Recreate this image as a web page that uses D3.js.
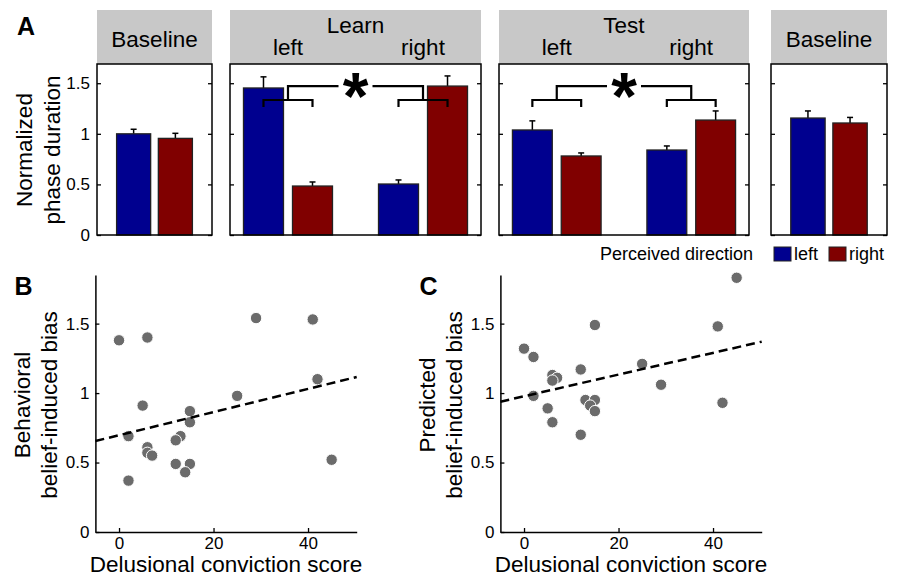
<!DOCTYPE html>
<html>
<head>
<meta charset="utf-8">
<script src="https://cdn.jsdelivr.net/npm/d3@7"></script>
<style>
    body { margin: 0; background: #fff; }
    svg { display: block; font-family: "Liberation Sans", Arial, sans-serif; }
</style>
</head>
<body>
<div id="chart"></div>
<script>
// ---- Panel A data: normalized phase duration ----
const perceived = ["left", "right"];
const phaseLabels = ["Baseline", "Learn", "Test", "Baseline"];
const phaseGroups = [[""], ["left", "right"], ["left", "right"], [""]];
const baselinePreMeans = [[1.00, 0.955]];
const baselinePreErrs = [[0.045, 0.05]];
const learnMeans = [[1.453, 0.484], [0.504, 1.472]];
const learnErrs = [[0.11, 0.04], [0.04, 0.10]];
const testMeans = [[1.038, 0.781], [0.840, 1.136]];
const testErrs = [[0.09, 0.03], [0.04, 0.09]];
const baselinePostMeans = [[1.156, 1.107]];
const baselinePostErrs = [[0.07, 0.055]];
const barTicks = [0, 0.5, 1, 1.5];
const sigLevels = [1.265, 1.334, 1.472]; // bracket foot, arm, top

// ---- Panels B and C: bias vs delusional conviction ----
const convictionB = [0, 6, 29, 41, 42, 25, 5, 15, 15, 2, 13, 12, 6, 6, 7, 12, 15, 14, 45, 2];
const biasB = [1.38, 1.40, 1.54, 1.53, 1.10, 0.98, 0.91, 0.87, 0.79, 0.69, 0.69, 0.66, 0.61, 0.57, 0.55, 0.49, 0.49, 0.43, 0.52, 0.37];
const fitB = [[-5, 0.655], [50.3, 1.116]];
const convictionC = [45, 15, 41, 0, 2, 25, 12, 6, 7, 6, 29, 2, 13, 15, 14, 42, 5, 15, 6, 12];
const biasC = [1.83, 1.49, 1.48, 1.32, 1.26, 1.21, 1.17, 1.13, 1.11, 1.09, 1.06, 0.98, 0.95, 0.95, 0.91, 0.93, 0.89, 0.87, 0.79, 0.70];
const fitC = [[-5, 0.938], [50.3, 1.370]];
const scatterYTicks = [0, 0.5, 1, 1.5];
const scatterXTicks = [0, 20, 40];

const colors = { left: "#00008f", right: "#800000" };
const fmt = d3.format("~g");

const svg = d3.select("#chart").append("svg")
    .attr("width", 898)
    .attr("height", 577);

// ================= Panel A =================
const panelX = [[97, 212], [230, 481], [499, 749], [771, 887]];
const means = [baselinePreMeans, learnMeans, testMeans, baselinePostMeans];
const errs = [baselinePreErrs, learnErrs, testErrs, baselinePostErrs];

const yA = d3.scaleLinear().domain([0, 1.69]).range([235, 64]);

svg.append("text")
    .attr("x", 17).attr("y", 35)
    .style("font-size", "25px").style("font-weight", "bold")
    .text("A");

// y label
const yTitleA = svg.append("text")
    .attr("transform", "translate(0,150) rotate(-90)")
    .attr("text-anchor", "middle")
    .style("font-size", "22.5px");
yTitleA.append("tspan").attr("x", 0).attr("y", 32).text("Normalized");
yTitleA.append("tspan").attr("x", 0).attr("y", 60).text("phase duration");

phaseLabels.forEach((label, i) => {
    const x0 = panelX[i][0], w = panelX[i][1] - panelX[i][0];
    const g = svg.append("g").attr("transform", `translate(${x0},0)`);

    const outer = d3.scaleBand().domain(phaseGroups[i]).range([0, w])
        .paddingInner(0.274).paddingOuter(0.0665);
    const inner = d3.scaleBand().domain(perceived).range([0, outer.bandwidth()])
        .paddingInner(0.184).paddingOuter(0.092);

    // grey header
    g.append("rect")
        .attr("x", 0).attr("y", 10)
        .attr("width", w).attr("height", 54)
        .attr("fill", "#c8c8c8");

    if (phaseGroups[i].length === 1) {
        g.append("text")
            .attr("x", w / 2).attr("y", 47)
            .attr("text-anchor", "middle")
            .style("font-size", "22.5px")
            .text(label);
    } else {
        g.append("text")
            .attr("x", w / 2).attr("y", 33)
            .attr("text-anchor", "middle")
            .style("font-size", "22.5px")
            .text(label);
        phaseGroups[i].forEach(grp => {
            g.append("text")
                .attr("x", outer(grp) + outer.bandwidth() / 2).attr("y", 55)
                .attr("text-anchor", "middle")
                .style("font-size", "22.5px")
                .text(grp);
        });
    }

    // bars + error bars
    phaseGroups[i].forEach((grp, gi) => {
        perceived.forEach((dir, di) => {
            const m = means[i][gi][di], e = errs[i][gi][di];
            const bx = outer(grp) + inner(dir);
            const cx = bx + inner.bandwidth() / 2;
            g.append("line")
                .attr("x1", cx).attr("x2", cx)
                .attr("y1", yA(m)).attr("y2", yA(m + e))
                .attr("stroke", "#000").attr("stroke-width", 1.5);
            g.append("line")
                .attr("x1", cx - 3).attr("x2", cx + 3)
                .attr("y1", yA(m + e)).attr("y2", yA(m + e))
                .attr("stroke", "#000").attr("stroke-width", 1.5);
            g.append("rect")
                .attr("x", bx).attr("y", yA(m))
                .attr("width", inner.bandwidth())
                .attr("height", yA(0) - yA(m))
                .attr("fill", colors[dir])
                .attr("stroke", "#222").attr("stroke-width", 1.3);
        });
    });

    // significance brackets
    if (phaseGroups[i].length === 2) {
        const mids = phaseGroups[i].map(grp => {
            const c0 = outer(grp) + inner("left") + inner.bandwidth() / 2;
            const c1 = outer(grp) + inner("right") + inner.bandwidth() / 2;
            g.append("path")
                .attr("d", `M${c0},${yA(sigLevels[0])}V${yA(sigLevels[1])}H${c1}V${yA(sigLevels[0])}`)
                .attr("fill", "none").attr("stroke", "#000").attr("stroke-width", 2.2);
            return (c0 + c1) / 2;
        });
        const mc = (mids[0] + mids[1]) / 2;
        g.append("path")
            .attr("d", `M${mids[0]},${yA(sigLevels[1])}V${yA(sigLevels[2])}H${mc - 17}M${mc + 17},${yA(sigLevels[2])}H${mids[1]}V${yA(sigLevels[1])}`)
            .attr("fill", "none").attr("stroke", "#000").attr("stroke-width", 2.2);
        g.append("text")
            .attr("x", mc).attr("y", yA(sigLevels[2]) + 33)
            .attr("text-anchor", "middle")
            .style("font-size", "66px").style("font-weight", "bold")
            .text("*");
    }

    // ticks on both sides, pointing inward
    const leftAxis = g.append("g")
        .call(d3.axisLeft(yA).tickValues(barTicks).tickSizeInner(-4).tickSizeOuter(0)
            .tickPadding(7).tickFormat(i === 0 ? fmt : () => ""));
    const rightAxis = g.append("g").attr("transform", `translate(${w},0)`)
        .call(d3.axisRight(yA).tickValues(barTicks).tickSizeInner(-4).tickSizeOuter(0)
            .tickFormat(() => ""));
    [leftAxis, rightAxis].forEach(ax => {
        ax.select(".domain").remove();
        ax.selectAll("line").attr("stroke-width", 1.3);
        ax.selectAll("text").style("font-size", "17px").attr("fill", "#000");
    });

    // frame
    g.append("rect")
        .attr("x", 0).attr("y", yA.range()[1])
        .attr("width", w).attr("height", yA.range()[0] - yA.range()[1])
        .attr("fill", "none").attr("stroke", "#000").attr("stroke-width", 1.5);
});

// legend
svg.append("text")
    .attr("x", 753).attr("y", 260)
    .attr("text-anchor", "end")
    .style("font-size", "18px")
    .text("Perceived direction");
const legendX = { left: 774, right: 829 };
perceived.forEach(dir => {
    svg.append("rect")
        .attr("x", legendX[dir]).attr("y", 247)
        .attr("width", 17).attr("height", 14)
        .attr("fill", colors[dir]).attr("stroke", "#222").attr("stroke-width", 1);
    svg.append("text")
        .attr("x", legendX[dir] + 20).attr("y", 260)
        .style("font-size", "18px")
        .text(dir);
});

// ================= Panels B & C =================
const yS = d3.scaleLinear().domain([0, 1.85]).range([532, 275]);

function scatterPanel(letter, xRange, xs, ys, fit, title1) {
    const x = d3.scaleLinear().domain([-5, 50.3]).range(xRange);
    const ax0 = xRange[0];

    svg.append("text")
        .attr("x", ax0 - 81).attr("y", 295)
        .style("font-size", "25px").style("font-weight", "bold")
        .text(letter);

    const yAxis = svg.append("g").attr("transform", `translate(${ax0},0)`)
        .call(d3.axisLeft(yS).tickValues(scatterYTicks).tickSizeInner(-4).tickSizeOuter(0)
            .tickPadding(6).tickFormat(fmt));
    const xAxis = svg.append("g").attr("transform", `translate(0,${yS(0)})`)
        .call(d3.axisBottom(x).tickValues(scatterXTicks).tickSizeInner(-4).tickSizeOuter(0)
            .tickPadding(5).tickFormat(fmt));
    [yAxis, xAxis].forEach(ax => {
        ax.select(".domain").attr("stroke-width", 1.5);
        ax.selectAll("line").attr("stroke-width", 1.3);
        ax.selectAll("text").style("font-size", "17px").attr("fill", "#000");
    });

    // points
    svg.append("g").selectAll("circle")
        .data(xs.map((v, k) => [v, ys[k]]))
        .join("circle")
        .attr("cx", d => x(d[0]))
        .attr("cy", d => yS(d[1]))
        .attr("r", 5.7)
        .attr("fill", "#6b6b6b")
        .attr("stroke", "#fff")
        .attr("stroke-width", 1);

    // regression line
    svg.append("path")
        .datum(fit)
        .attr("d", d3.line().x(d => x(d[0])).y(d => yS(d[1])))
        .attr("fill", "none")
        .attr("stroke", "#000")
        .attr("stroke-width", 2.5)
        .attr("stroke-dasharray", "9,5");

    // axis titles
    svg.append("text")
        .attr("x", (xRange[0] + xRange[1]) / 2).attr("y", 572)
        .attr("text-anchor", "middle")
        .style("font-size", "22.5px")
        .text("Delusional conviction score");
    const yt = svg.append("text")
        .attr("transform", `translate(0,405) rotate(-90)`)
        .attr("text-anchor", "middle")
        .style("font-size", "22.5px");
    yt.append("tspan").attr("x", 0).attr("y", ax0 - 65).text(title1);
    yt.append("tspan").attr("x", 0).attr("y", ax0 - 38).text("belief-induced bias");
}

scatterPanel("B", [95.4, 356.7], convictionB, biasB, fitB, "Behavioral");
scatterPanel("C", [500.4, 761.7], convictionC, biasC, fitC, "Predicted");
</script>
</body>
</html>
